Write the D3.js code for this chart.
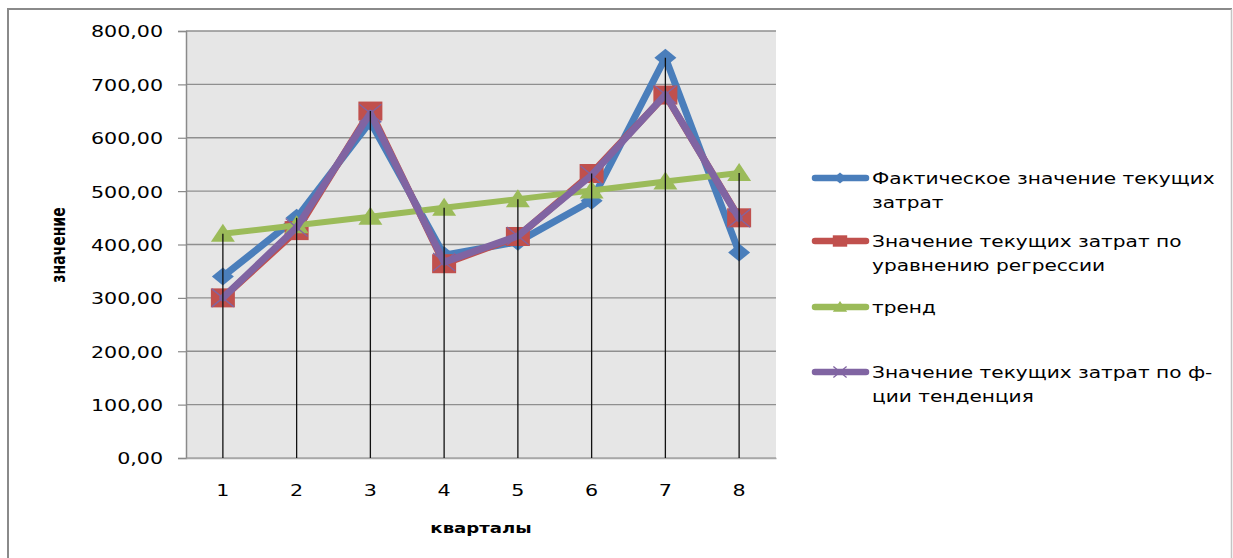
<!DOCTYPE html>
<html>
<head>
<meta charset="utf-8">
<script src="https://cdn.jsdelivr.net/npm/d3@7/dist/d3.min.js"></script>
<style>
  html, body { margin: 0; padding: 0; background: #fff; }
  svg { display: block; }
  text { font-family: "DejaVu Sans", sans-serif; fill: #000; }
</style>
</head>
<body>
<svg id="chart" width="1233" height="558"></svg>
<script>
// Quarterly data
const quarters = [1, 2, 3, 4, 5, 6, 7, 8];
const actualCosts = [340, 450, 630, 380, 405, 482, 750, 385];
const regressionCosts = [300, 426, 650, 364, 415, 533, 680, 450];
const trendValues = [420, 436, 452, 469, 485, 501, 518, 534];
const tendencyCosts = [300, 432, 646, 367, 416, 530, 681, 449];
const yTicks = [0, 100, 200, 300, 400, 500, 600, 700, 800];

const seriesNames = [
  ["Фактическое значение текущих", "затрат"],
  ["Значение текущих затрат по", "уравнению регрессии"],
  ["тренд"],
  ["Значение текущих затрат по ф-", "ции тенденция"]
];

const series = [
  { values: actualCosts, color: "#4a7ebb", width: 7, marker: "diamond" },
  { values: regressionCosts, color: "#c0504d", width: 7, marker: "square" },
  { values: trendValues, color: "#9bbb59", width: 6, marker: "triangle" },
  { values: tendencyCosts, color: "#8064a2", width: 7, marker: "cross" }
];

const SX = 1.25;        // horizontal stretch of axis lettering
const LEGEND_SX = 1.22; // horizontal stretch of legend lettering
const svg = d3.select("#chart");

const plot = { left: 186, right: 776, top: 31, bottom: 458 };

const x = d3.scaleBand().domain(quarters).range([plot.left, plot.right]);
const y = d3.scaleLinear().domain([0, 800]).range([plot.bottom, plot.top]);
const cx = q => x(q) + x.bandwidth() / 2;

const ruFormat = d3.formatLocale({ decimal: ",", thousands: " ", grouping: [3], currency: ["", ""] }).format(".2f");

// outer frame
svg.append("line").attr("x1", 8).attr("x2", 1232).attr("y1", 9).attr("y2", 9)
  .attr("stroke", "#8a8a8a").attr("stroke-width", 2);
svg.append("line").attr("x1", 8).attr("x2", 8).attr("y1", 8).attr("y2", 558)
  .attr("stroke", "#8a8a8a").attr("stroke-width", 2);
svg.append("line").attr("x1", 1231.5).attr("x2", 1231.5).attr("y1", 9).attr("y2", 558)
  .attr("stroke", "#c4c4c4").attr("stroke-width", 1.5);

// plot background
svg.append("rect")
  .attr("x", plot.left).attr("y", plot.top)
  .attr("width", plot.right - plot.left).attr("height", plot.bottom - plot.top)
  .attr("fill", "#e6e6e6");

// horizontal gridlines
svg.append("g").selectAll("line").data(yTicks).join("line")
  .attr("x1", plot.left).attr("x2", plot.right)
  .attr("y1", d => y(d)).attr("y2", d => y(d))
  .attr("stroke", d => d === 0 ? "#a8a8a8" : "#8f8f8f").attr("stroke-width", 1.4);

// y axis
const yAxis = svg.append("g")
  .attr("transform", `translate(${plot.left},0)`)
  .call(d3.axisLeft(y).tickValues(yTicks).tickSize(8).tickPadding(0).tickFormat(ruFormat));
yAxis.select(".domain").attr("stroke", "#8a8a8a").attr("stroke-width", 1.5);
yAxis.selectAll(".tick line").attr("stroke", "#8a8a8a").attr("stroke-width", 1.2);
yAxis.selectAll(".tick text")
  .attr("font-family", "DejaVu Sans").attr("font-size", 16.5).attr("fill", "#000")
  .attr("x", -23 / SX).attr("dy", "0.36em")
  .attr("transform", `scale(${SX},1)`);

// x axis
const xAxis = svg.append("g")
  .attr("transform", `translate(0,${plot.bottom})`)
  .call(d3.axisBottom(x).tickSize(0).tickPadding(0));
xAxis.select(".domain").attr("stroke", "#a8a8a8").attr("stroke-width", 1.4);
xAxis.selectAll(".tick text")
  .attr("font-family", "DejaVu Sans").attr("font-size", 16.5).attr("fill", "#000")
  .attr("y", 32).attr("dy", "0.36em")
  .attr("transform", `scale(${SX},1)`);

// axis titles
svg.append("text")
  .attr("transform", `translate(${(plot.left + plot.right) / 2},528) scale(${SX},1)`)
  .attr("text-anchor", "middle").attr("dy", "0.36em")
  .attr("font-weight", "bold").attr("font-size", 14.5)
  .text("кварталы");

svg.append("text")
  .attr("transform", `translate(58,245) rotate(-90) scale(1,1.4)`)
  .attr("text-anchor", "middle").attr("dy", "0.36em")
  .attr("font-weight", "bold").attr("font-size", 14)
  .text("значение");

// marker shapes
function drawMarker(sel, kind, color, s) {
  if (kind === "diamond") {
    sel.append("path")
      .attr("d", `M0,${-9 * s}L${11 * s},0L0,${9 * s}L${-11 * s},0Z`)
      .attr("fill", color);
  } else if (kind === "square") {
    sel.append("rect")
      .attr("x", -12 * s).attr("y", -9.5 * s)
      .attr("width", 24 * s).attr("height", 19 * s)
      .attr("fill", color);
  } else if (kind === "triangle") {
    sel.append("path")
      .attr("d", `M0,${-10 * s}L${12 * s},${8 * s}L${-12 * s},${8 * s}Z`)
      .attr("fill", color);
  } else if (kind === "cross") {
    sel.append("path")
      .attr("d", `M${-11 * s},${-9 * s}L${11 * s},${9 * s}M${-11 * s},${9 * s}L${11 * s},${-9 * s}`)
      .attr("stroke", color).attr("stroke-width", 1.3).attr("fill", "none");
  }
}

// series lines and markers
const line = d3.line().x((d, i) => cx(quarters[i])).y(d => y(d));
series.forEach(s => {
  const g = svg.append("g");
  g.append("path")
    .attr("d", line(s.values))
    .attr("fill", "none").attr("stroke", s.color)
    .attr("stroke-width", s.width)
    .attr("stroke-linejoin", "round").attr("stroke-linecap", "round");
  s.values.forEach((v, i) => {
    const m = g.append("g").attr("transform", `translate(${cx(quarters[i])},${y(v)})`);
    drawMarker(m, s.marker, s.color, 1);
  });
});

// drop lines from the highest point of each quarter down to the axis
const highs = quarters.map((q, i) => d3.max(series, s => s.values[i]));
svg.append("g").selectAll("line").data(quarters).join("line")
  .attr("x1", d => cx(d)).attr("x2", d => cx(d))
  .attr("y1", (d, i) => y(highs[i])).attr("y2", plot.bottom)
  .attr("stroke", "#111").attr("stroke-width", 1.3);

// legend
const legendRows = [178, 241, 307, 372];
const legend = svg.append("g");
series.forEach((s, i) => {
  const ly = legendRows[i];
  legend.append("line")
    .attr("x1", 815).attr("x2", 866).attr("y1", ly).attr("y2", ly)
    .attr("stroke", s.color).attr("stroke-width", 6.5).attr("stroke-linecap", "round");
  const m = legend.append("g").attr("transform", `translate(840,${ly})`);
  drawMarker(m, s.marker, s.color, 0.6);
  seriesNames[i].forEach((t, k) => {
    legend.append("text")
      .attr("transform", `translate(872,${ly + k * 24}) scale(${LEGEND_SX},1)`)
      .attr("dy", "0.36em").attr("font-size", 16.5)
      .text(t);
  });
});
</script>
</body>
</html>
